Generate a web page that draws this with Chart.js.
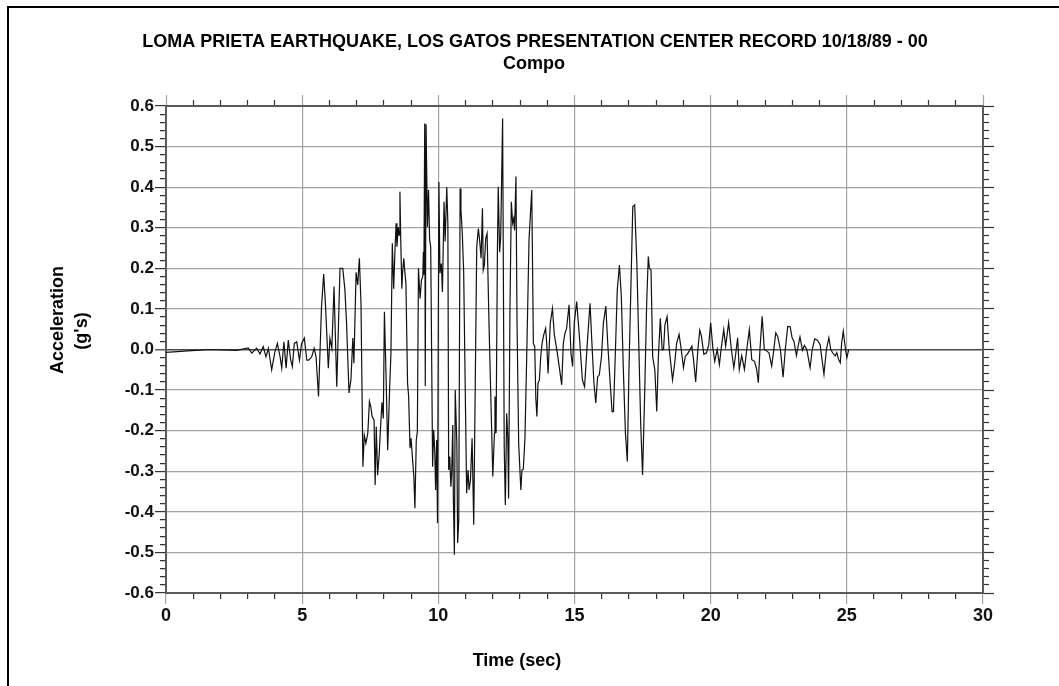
<!DOCTYPE html>
<html>
<head>
<meta charset="utf-8">
<style>
  html, body { margin: 0; padding: 0; background: #fff; }
  #wrap { position: relative; width: 1059px; height: 686px; overflow: hidden; }
  #wrap canvas { position: absolute; left: 0; top: 0; }
  #frame { position: absolute; left: 7px; top: 6px; right: -4px; bottom: -4px;
           border-top: 2px solid #000; border-left: 2px solid #000; pointer-events: none; }
</style>
<script src="https://cdn.jsdelivr.net/npm/chart.js@4.4.1/dist/chart.umd.min.js"></script>
</head>
<body>
<div id="wrap">
  <canvas id="accel" width="1059" height="686"></canvas>
  <div id="frame"></div>
</div>
<script>
// Loma Prieta 1989, Los Gatos Presentation Center, component 00
const chartTitle = 'LOMA PRIETA EARTHQUAKE, LOS GATOS PRESENTATION CENTER RECORD 10/18/89 - 00';
const chartSubtitle = 'Compo';
const xAxisTitle = 'Time (sec)';
const yAxisTitle = ['Acceleration', "(g's)"];

// labelled tick values
const xLabelTicks = [0, 5, 10, 15, 20, 25, 30];
const yLabelTicks = [-0.6, -0.5, -0.4, -0.3, -0.2, -0.1, 0, 0.1, 0.2, 0.3, 0.4, 0.5, 0.6];

// time (s)
const timeSec = [
  0.00, 0.94, 1.62, 2.60, 3.02, 3.15, 3.33, 3.45, 3.57, 3.67, 3.76, 3.88, 4.00, 4.09, 4.19, 4.25,
  4.33, 4.41, 4.49, 4.58, 4.64, 4.71, 4.80, 4.90, 4.98, 5.08, 5.17, 5.24, 5.35, 5.44, 5.51, 5.60,
  5.71, 5.79, 5.86, 5.96, 6.02, 6.09, 6.17, 6.27, 6.39, 6.49, 6.57, 6.63, 6.72, 6.79, 6.86, 6.90,
  6.98, 7.04, 7.10, 7.16, 7.23, 7.28, 7.34, 7.41, 7.47, 7.52, 7.57, 7.64, 7.68, 7.72, 7.77, 7.83,
  7.88, 7.93, 7.98, 8.02, 8.08, 8.14, 8.21, 8.26, 8.31, 8.36, 8.41, 8.45, 8.48, 8.53, 8.56, 8.59,
  8.62, 8.66, 8.69, 8.73, 8.77, 8.81, 8.87, 8.91, 8.96, 9.00, 9.05, 9.10, 9.14, 9.19, 9.23, 9.27,
  9.33, 9.38, 9.43, 9.45, 9.47, 9.50, 9.52, 9.55, 9.60, 9.64, 9.68, 9.72, 9.79, 9.83, 9.87, 9.90,
  9.94, 9.97, 10.02, 10.06, 10.11, 10.15, 10.21, 10.25, 10.28, 10.31, 10.35, 10.38, 10.42, 10.46, 10.49, 10.53,
  10.55, 10.59, 10.62, 10.68, 10.71, 10.75, 10.80, 10.83, 10.88, 10.93, 11.04, 11.09, 11.13, 11.18, 11.24, 11.30,
  11.41, 11.47, 11.52, 11.57, 11.62, 11.65, 11.69, 11.74, 11.79, 11.86, 12.00, 12.06, 12.08, 12.12, 12.17, 12.20,
  12.25, 12.29, 12.36, 12.42, 12.46, 12.51, 12.55, 12.58, 12.63, 12.68, 12.73, 12.77, 12.80, 12.85, 12.89, 12.95,
  13.03, 13.07, 13.12, 13.18, 13.24, 13.33, 13.43, 13.49, 13.54, 13.58, 13.62, 13.66, 13.71, 13.76, 13.81, 13.87,
  13.94, 13.98, 14.03, 14.11, 14.19, 14.26, 14.37, 14.53, 14.59, 14.65, 14.71, 14.80, 14.87, 14.93, 14.99, 15.08,
  15.18, 15.29, 15.37, 15.47, 15.57, 15.64, 15.71, 15.78, 15.85, 15.91, 15.99, 16.06, 16.15, 16.22, 16.31, 16.38,
  16.43, 16.50, 16.57, 16.65, 16.72, 16.79, 16.87, 16.94, 17.00, 17.08, 17.14, 17.21, 17.29, 17.36, 17.43, 17.50,
  17.58, 17.65, 17.71, 17.75, 17.81, 17.87, 17.95, 18.02, 18.08, 18.15, 18.22, 18.27, 18.32, 18.40, 18.48, 18.60,
  18.68, 18.75, 18.84, 18.92, 19.00, 19.07, 19.14, 19.21, 19.31, 19.37, 19.45, 19.53, 19.60, 19.66, 19.75, 19.85,
  19.93, 20.00, 20.08, 20.15, 20.24, 20.32, 20.39, 20.48, 20.55, 20.66, 20.76, 20.85, 20.91, 20.99, 21.05, 21.14,
  21.24, 21.34, 21.42, 21.51, 21.61, 21.69, 21.75, 21.81, 21.89, 21.97, 22.06, 22.14, 22.24, 22.32, 22.39, 22.46,
  22.56, 22.66, 22.74, 22.83, 22.92, 22.99, 23.06, 23.15, 23.21, 23.28, 23.37, 23.44, 23.53, 23.65, 23.73, 23.82,
  23.92, 24.02, 24.08, 24.16, 24.25, 24.34, 24.41, 24.48, 24.57, 24.63, 24.70, 24.76, 24.81, 24.87, 24.95, 25.00,
  25.07
];

// acceleration (g)
const accelG = [
  -0.007, -0.003, 0.000, -0.002, 0.004, -0.009, 0.003, -0.011, 0.007, -0.018, 0.003, -0.050, -0.005, 0.015, -0.018, -0.046,
  0.019, -0.046, 0.023, -0.026, -0.042, 0.015, 0.019, -0.026, 0.015, 0.028, -0.026, -0.026, -0.018, 0.003, -0.018, -0.116,
  0.105, 0.186, 0.105, -0.046, 0.028, 0.003, 0.155, -0.092, 0.200, 0.200, 0.147, 0.065, -0.107, -0.075, 0.028, -0.034,
  0.190, 0.159, 0.225, 0.114, -0.289, -0.211, -0.231, -0.206, -0.128, -0.141, -0.165, -0.174, -0.334, -0.190, -0.310, -0.256,
  -0.190, -0.130, -0.170, 0.093, -0.063, -0.248, -0.100, -0.009, 0.262, 0.150, 0.249, 0.311, 0.253, 0.302, 0.282, 0.389,
  0.270, 0.150, 0.192, 0.225, 0.192, 0.163, -0.083, -0.116, -0.243, -0.219, -0.268, -0.313, -0.391, -0.223, -0.202, 0.200,
  0.126, 0.171, 0.180, 0.241, 0.184, 0.557, -0.090, 0.555, 0.302, 0.393, 0.270, 0.253, -0.289, -0.198, -0.252, -0.346,
  -0.223, -0.428, 0.413, 0.188, 0.212, 0.142, 0.364, 0.266, 0.266, 0.400, 0.311, -0.297, -0.264, -0.338, -0.305, -0.186,
  -0.358, -0.506, -0.100, -0.231, -0.477, -0.420, 0.397, 0.344, 0.286, 0.192, -0.354, -0.297, -0.346, -0.321, -0.219, -0.432,
  0.253, 0.298, 0.266, 0.225, 0.348, 0.196, 0.208, 0.274, 0.286, 0.065, -0.313, -0.206, -0.116, -0.206, 0.245, 0.401,
  0.240, 0.278, 0.569, -0.243, -0.383, -0.157, -0.215, -0.367, 0.097, 0.364, 0.311, 0.323, 0.294, 0.426, 0.065, -0.231,
  -0.346, -0.297, -0.295, -0.219, -0.034, 0.270, 0.393, 0.015, 0.007, -0.120, -0.165, -0.083, -0.075, -0.018, 0.015, 0.036,
  0.052, 0.015, -0.059, 0.065, 0.101, 0.036, -0.009, -0.087, 0.015, 0.040, 0.052, 0.110, -0.009, -0.042, 0.065, 0.118,
  0.032, -0.075, -0.092, 0.015, 0.114, 0.015, -0.079, -0.132, -0.067, -0.063, -0.018, 0.065, 0.107, 0.015, -0.083, -0.153,
  -0.153, -0.009, 0.147, 0.208, 0.130, -0.042, -0.206, -0.276, -0.050, 0.179, 0.352, 0.356, 0.212, 0.015, -0.182, -0.309,
  -0.100, 0.114, 0.229, 0.200, 0.196, -0.018, -0.050, -0.153, -0.018, 0.077, -0.001, 0.000, 0.061, 0.081, 0.000, -0.075,
  -0.034, 0.015, 0.037, 0.000, -0.045, -0.016, -0.012, -0.004, 0.008, -0.025, -0.080, 0.000, 0.048, 0.033, -0.012, -0.008,
  0.012, 0.066, 0.004, -0.029, 0.000, -0.037, 0.004, 0.049, 0.008, 0.066, 0.000, -0.045, -0.016, 0.029, -0.049, -0.015,
  -0.049, 0.008, 0.049, -0.025, -0.029, -0.049, -0.082, 0.000, 0.082, 0.000, -0.004, -0.008, -0.041, 0.000, 0.041, 0.033,
  0.000, -0.068, 0.000, 0.057, 0.056, 0.029, 0.020, -0.015, 0.008, 0.031, -0.002, 0.010, 0.000, -0.045, 0.000, 0.026,
  0.023, 0.012, -0.020, -0.061, 0.000, 0.029, 0.000, -0.008, -0.016, -0.008, -0.025, -0.033, 0.016, 0.045, 0.000, -0.020,
  0.000
];

const FONT = '"Liberation Sans", Arial, Helvetica, sans-serif';
const GRID = '#a3a3a3';
const AXIS = '#5a5a5a';
const TICK = '#333';
const CLEAR = 'rgba(0,0,0,0)';
const TICK_LEN = 11;

const near = (a, b) => Math.abs(a - b) < 1e-6;
const isXLabel = v => xLabelTicks.some(t => near(t, v));
const isYLabel = v => yLabelTicks.some(t => near(t, v));

// grid lines only at labelled values; the zero line is darker
const gridColorX = ctx => (ctx.tick && isXLabel(ctx.tick.value)) ? GRID : CLEAR;
function gridColorY(ctx) {
  if (!ctx.tick) return CLEAR;
  if (near(ctx.tick.value, 0)) return '#4a4a4a';
  return isYLabel(ctx.tick.value) ? GRID : CLEAR;
}
const gridWidthY = ctx => (ctx.tick && near(ctx.tick.value, 0)) ? 1.6 : 1.2;

// major ticks run the full tick length, minor ticks half of it.
// bottom/right tick marks are stroked from the axis outward, top/left toward the axis.
const dashOutward = isMajor => ctx => (ctx.tick && isMajor(ctx.tick.value)) ? [] : [5, 40];
const dashInward = isMajor => ctx => (ctx.tick && isMajor(ctx.tick.value)) ? [] : [0, 5, 40];
const xTickColor = ctx => (ctx.tick && isXLabel(ctx.tick.value)) ? GRID : TICK;

const points = timeSec.map((t, i) => ({ x: t, y: accelG[i] }));

// titles and axis captions
const captions = {
  id: 'captions',
  afterDraw(chart) {
    const c = chart.ctx;
    c.save();
    c.fillStyle = '#000';
    c.textAlign = 'center';
    c.textBaseline = 'middle';
    c.font = 'bold 18px ' + FONT;
    c.fillText(chartTitle, 535, 42);
    c.fillText(chartSubtitle, 534, 64);
    c.fillText(xAxisTitle, 517, 661);
    c.save();
    c.translate(58, 320);
    c.rotate(-Math.PI / 2);
    c.fillText(yAxisTitle[0], 0, 0);
    c.restore();
    c.save();
    c.translate(82, 331);
    c.rotate(-Math.PI / 2);
    c.fillText(yAxisTitle[1], 0, 0);
    c.restore();
    c.restore();
  }
};

new Chart(document.getElementById('accel'), {
  type: 'scatter',
  data: {
    datasets: [{
      data: points,
      showLine: true,
      borderColor: '#111',
      borderWidth: 1.2,
      pointRadius: 0,
      pointHoverRadius: 0,
      tension: 0,
      xAxisID: 'x',
      yAxisID: 'y'
    }]
  },
  options: {
    responsive: false,
    animation: false,
    devicePixelRatio: 1,
    layout: { padding: 0 },
    plugins: { legend: { display: false }, tooltip: { enabled: false }, title: { display: false } },
    scales: {
      x: {
        type: 'linear', position: 'bottom', min: 0, max: 30,
        afterFit(s) { s.height = 93; },
        border: { display: true, color: AXIS, width: 2 },
        grid: { color: gridColorX, lineWidth: 1.2, tickColor: xTickColor, tickLength: TICK_LEN,
                tickWidth: 1.2, tickBorderDash: dashOutward(isXLabel) },
        ticks: {
          stepSize: 1, autoSkip: false, maxRotation: 0, padding: 1, color: '#111',
          font: { family: FONT, size: 18, weight: 'bold' },
          callback: v => isXLabel(v) ? String(Math.round(v)) : ''
        }
      },
      xTop: {
        type: 'linear', position: 'top', min: 0, max: 30,
        afterFit(s) { s.height = 106; },
        border: { display: true, color: AXIS, width: 2 },
        grid: { drawOnChartArea: false, tickColor: xTickColor, tickLength: TICK_LEN,
                tickWidth: 1.2, tickBorderDash: dashInward(isXLabel) },
        ticks: { stepSize: 1, autoSkip: false, display: false }
      },
      y: {
        type: 'linear', position: 'left', min: -0.6, max: 0.6,
        afterFit(s) { s.width = 166; },
        border: { display: true, color: AXIS, width: 2 },
        grid: { color: gridColorY, lineWidth: gridWidthY, tickColor: TICK, tickLength: TICK_LEN,
                tickWidth: 1.2, tickBorderDash: dashInward(isYLabel) },
        ticks: {
          stepSize: 0.02, autoSkip: false, maxTicksLimit: 1000, padding: 1, color: '#111',
          font: { family: FONT, size: 17, weight: 'bold' },
          callback: v => isYLabel(v) ? v.toFixed(1) : ''
        }
      },
      yRight: {
        type: 'linear', position: 'right', min: -0.6, max: 0.6,
        afterFit(s) { s.width = 76; },
        border: { display: true, color: AXIS, width: 2 },
        grid: { drawOnChartArea: false, tickColor: TICK, tickLength: TICK_LEN,
                tickWidth: 1.2, tickBorderDash: dashOutward(isYLabel) },
        ticks: { stepSize: 0.02, autoSkip: false, maxTicksLimit: 1000, display: false }
      }
    }
  },
  plugins: [captions]
});
</script>
</body>
</html>
